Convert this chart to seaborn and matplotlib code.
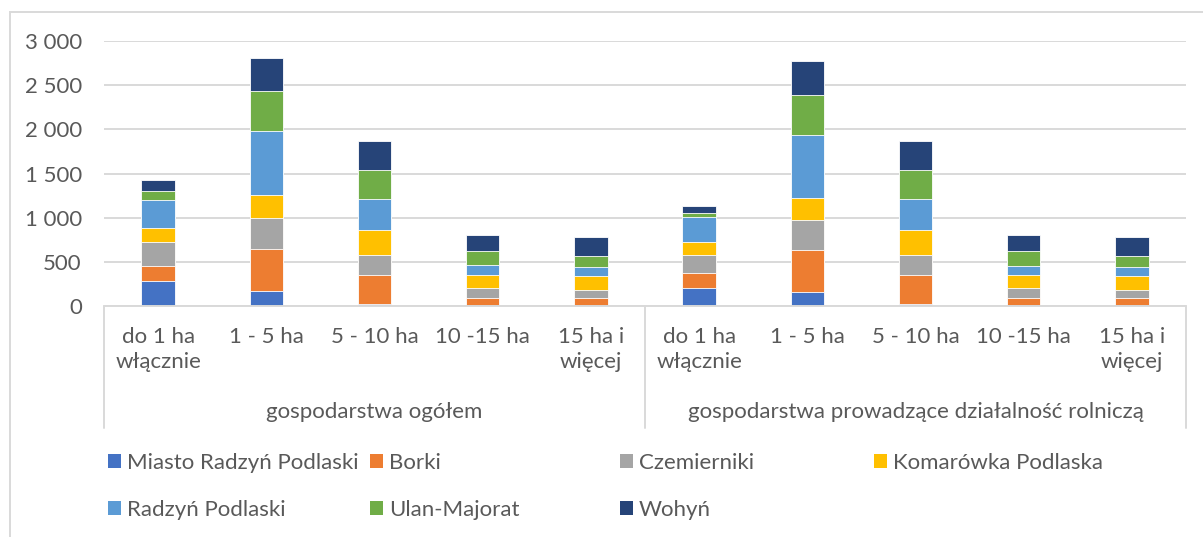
import numpy as np
import pandas as pd
import matplotlib
matplotlib.use("Agg")
import matplotlib.pyplot as plt
from matplotlib.patches import Patch, Rectangle
from matplotlib.ticker import FuncFormatter
import seaborn as sns

# Farm-size classes (repeated for both groups) and the two groups
size_classes = ["do 1 ha\nwłącznie", "1 - 5 ha", "5 - 10 ha", "10 -15 ha", "15 ha i\nwięcej"]
groups = ["gospodarstwa ogółem", "gospodarstwa prowadzące działalność rolniczą"]

# Number of farms per municipality (first five: all farms, last five: agricultural activity)
miasto_radzyn = [283, 170, 23, 0, 0, 208, 159, 23, 0, 0]
borki = [170, 476, 328, 94, 94, 170, 476, 328, 91, 91]
czemierniki = [272, 351, 231, 106, 91, 196, 340, 227, 109, 90]
komarowka = [155, 265, 279, 148, 151, 155, 253, 280, 148, 155]
radzyn_gmina = [325, 714, 352, 113, 106, 276, 710, 351, 109, 106]
ulan_majorat = [102, 457, 325, 162, 125, 49, 453, 325, 163, 125]
wohyn = [117, 378, 332, 182, 215, 83, 378, 336, 185, 215]

series_names = ["Miasto Radzyń Podlaski", "Borki", "Czemierniki", "Komarówka Podlaska",
                "Radzyń Podlaski", "Ulan-Majorat", "Wohyń"]
series_values = [miasto_radzyn, borki, czemierniki, komarowka, radzyn_gmina, ulan_majorat, wohyn]
colors = ["#4472C4", "#ED7D31", "#A5A5A5", "#FFC000", "#5B9BD5", "#70AD47", "#264478"]

sns.set_theme(style="white")
plt.rcParams["font.family"] = ["Lato", "DejaVu Sans"]
text_color = "#595959"
grid_color = "#D9D9D9"
fs = 16

W, H = 1203, 537
fig = plt.figure(figsize=(W / 100, H / 100), dpi=100)
ax = fig.add_axes([104 / W, (H - 306) / H, 1082 / W, 265 / H])

positions = list(range(len(miasto_radzyn)))
df = pd.DataFrame({name: vals for name, vals in zip(series_names, series_values)})
df["pos"] = positions
cum = df[series_names].cumsum(axis=1)

# Stacked bars: draw cumulative totals from the top segment down
for name, col in reversed(list(zip(series_names, colors))):
    sns.barplot(x=df["pos"], y=cum[name], color=col, saturation=1, width=0.31,
                edgecolor="white", linewidth=0.6, ax=ax, order=positions)

ax.set_ylim(0, 3000)
ax.set_xlim(-0.5, 9.5)
ax.set_yticks(np.arange(0, 3001, 500))
ax.yaxis.set_major_formatter(FuncFormatter(lambda v, p: f"{int(v):,}".replace(",", " ")))
ax.set_axisbelow(True)
ax.yaxis.grid(True, color=grid_color, linewidth=1.4)
ax.xaxis.grid(False)
for s in ax.spines.values():
    s.set_visible(False)
ax.set_xlabel("")
ax.set_ylabel("")
ax.tick_params(axis="y", length=0, pad=16, labelsize=fs, labelcolor=text_color)
ax.set_xticks(positions)
ax.set_xticklabels(size_classes * 2, fontsize=fs, color=text_color, linespacing=1.3)
ax.tick_params(axis="x", length=0, pad=15)

# Category axis: zero line and group separators
trans = ax.get_xaxis_transform()
ax.plot([-0.5, 9.5], [0, 0], transform=trans, color=grid_color, lw=1.4, clip_on=False)
for xs in (-0.5, 4.5, 9.5):
    ax.plot([xs, xs], [0, -122 / 265], transform=trans, color=grid_color, lw=1.4, clip_on=False)
for gi, g in enumerate(groups):
    ax.text(2 + 5 * gi, -106 / 265, g, transform=trans, ha="center", va="center",
            fontsize=fs, color=text_color)

# Legend laid out in four columns
handles = [Patch(facecolor=c, edgecolor="none") for c in colors]
columns = [[0, 4], [1, 5], [2, 6], [3]]
col_x = [108, 370, 620, 874]
for idx, cx in zip(columns, col_x):
    fig.legend(handles=[handles[i] for i in idx], labels=[series_names[i] for i in idx],
               loc="upper left", bbox_to_anchor=(cx / W, 1 - 453 / H), frameon=False,
               fontsize=fs, labelcolor=text_color, handlelength=0.6, handleheight=0.6,
               handletextpad=0.25, labelspacing=1.2, borderpad=0, borderaxespad=0)

# Chart border
fig.add_artist(Rectangle((10 / W, -0.1), 1.2, 1 - 12 / H + 0.1, transform=fig.transFigure,
                         fill=False, edgecolor=grid_color, linewidth=1.4))

fig.savefig("out.png", dpi=100)
